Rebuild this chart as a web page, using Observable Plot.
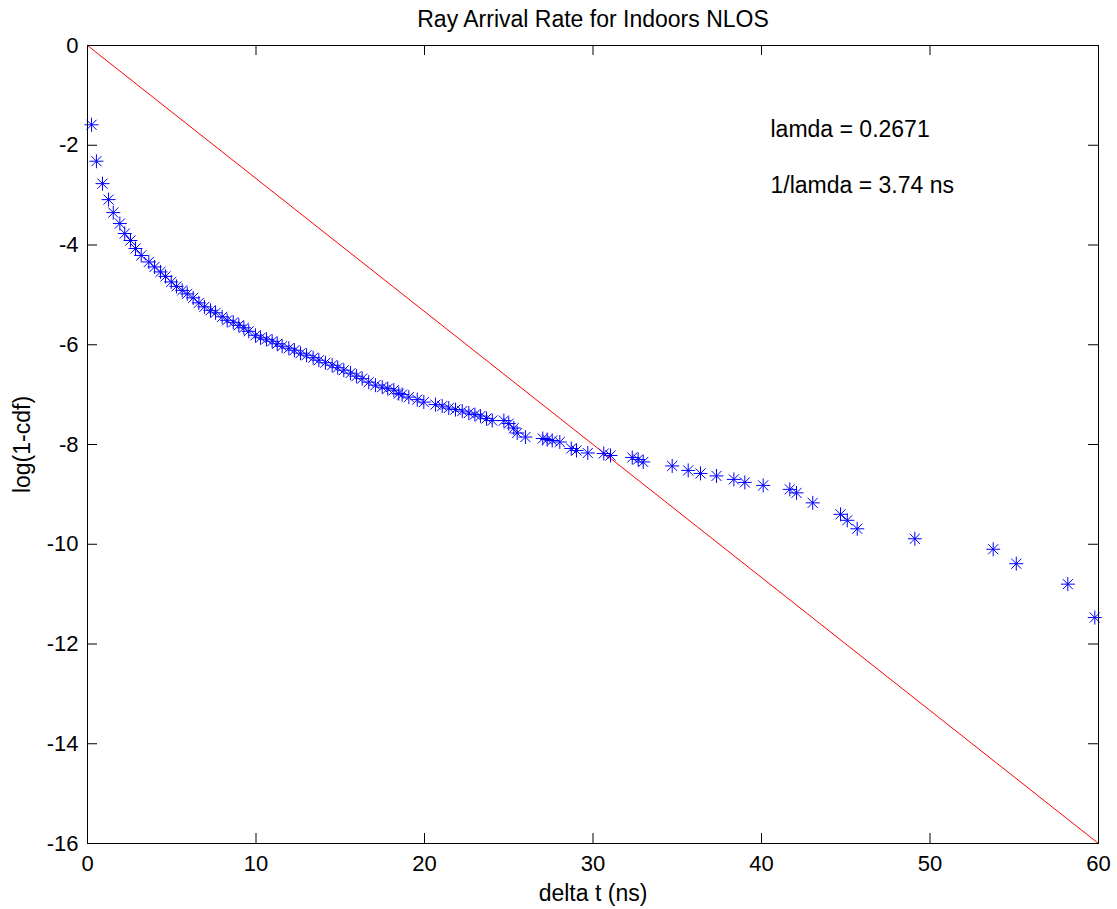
<!DOCTYPE html>
<html>
<head>
<meta charset="utf-8">
<script src="https://cdn.jsdelivr.net/npm/d3@7"></script>
<script src="https://cdn.jsdelivr.net/npm/@observablehq/plot@0.6"></script>
<style>
  html, body { margin: 0; padding: 0; background: #fff; }
</style>
</head>
<body>
<div id="chart"></div>
<script>
const title = "Ray Arrival Rate for Indoors NLOS";
const xLabel = "delta t (ns)";
const yLabel = "log(1-cdf)";
const annotations = ["lamda = 0.2671", "1/lamda = 3.74 ns"];

const xTicks = [0, 10, 20, 30, 40, 50, 60];
const yTicks = [0, -2, -4, -6, -8, -10, -12, -14, -16];

// measured points: delta t (ns) and log(1-cdf)
const deltaT = [0.24,0.53,0.89,1.25,1.53,1.92,2.21,2.55,2.85,3.19,3.64,3.98,4.33,4.63,4.97,5.28,5.62,5.92,6.27,6.61,
  6.94,7.30,7.60,7.99,8.29,8.65,8.98,9.28,9.57,9.97,10.27,10.62,10.96,11.26,11.55,11.95,12.28,12.64,13.00,13.39,
  13.73,14.12,14.52,14.85,15.21,15.61,15.96,16.30,16.69,17.09,17.49,17.82,18.18,18.47,18.67,19.07,19.57,19.96,20.65,21.05,
  21.44,21.84,22.24,22.63,22.99,23.32,23.68,24.02,24.71,25.00,25.30,25.50,25.99,27.02,27.28,27.58,28.03,28.71,29.02,29.69,
  30.64,31.04,32.33,32.68,32.98,34.70,35.65,36.38,37.33,38.36,39.01,40.10,41.68,42.08,43.04,44.69,45.09,45.68,49.10,53.75,
  55.12,58.18,59.78];
const logCdf = [-1.59,-2.32,-2.77,-3.09,-3.35,-3.57,-3.77,-3.91,-4.07,-4.21,-4.34,-4.44,-4.54,-4.63,-4.74,-4.83,-4.91,-4.98,-5.06,-5.16,
  -5.24,-5.31,-5.36,-5.44,-5.51,-5.55,-5.61,-5.66,-5.73,-5.81,-5.86,-5.89,-5.93,-5.98,-6.03,-6.07,-6.11,-6.17,-6.21,-6.26,
  -6.31,-6.36,-6.41,-6.46,-6.51,-6.57,-6.63,-6.68,-6.75,-6.81,-6.85,-6.88,-6.91,-6.98,-7.00,-7.05,-7.10,-7.15,-7.20,-7.23,
  -7.27,-7.30,-7.33,-7.37,-7.40,-7.43,-7.48,-7.52,-7.52,-7.58,-7.67,-7.77,-7.85,-7.88,-7.90,-7.92,-7.95,-8.08,-8.12,-8.17,
  -8.18,-8.22,-8.26,-8.30,-8.35,-8.43,-8.52,-8.58,-8.63,-8.70,-8.76,-8.82,-8.90,-8.97,-9.17,-9.40,-9.52,-9.69,-9.89,-10.10,
  -10.39,-10.80,-11.47];

// fitted exponential line (log scale): endpoints
const fitT = [0, 60];
const fitY = [0, -16];

const points = deltaT.map((t, i) => ({t, v: logCdf[i]}));
const fit = fitT.map((t, i) => ({t, v: fitY[i]}));

// MATLAB-style 8-arm asterisk
const star8 = {
  draw(context, size) {
    const r = Math.sqrt(size / Math.PI);
    const d = r * 0.72;
    context.moveTo(0, -r); context.lineTo(0, r);
    context.moveTo(-r, 0); context.lineTo(r, 0);
    context.moveTo(-d, -d); context.lineTo(d, d);
    context.moveTo(-d, d); context.lineTo(d, -d);
  }
};

const W = 1117, H = 909, ML = 87, MR = 19, MT = 45, MB = 66;
const PW = W - ML - MR, PH = H - MT - MB, TL = 10;
const fmt = d => String(d);

const chart = Plot.plot({
  width: W,
  height: H,
  marginLeft: ML,
  marginRight: MR,
  marginTop: MT,
  marginBottom: MB,
  style: {fontFamily: "'Liberation Sans', Arial, sans-serif", fontSize: "22px", background: "#fff", color: "#000"},
  x: {domain: [0, 60], ticks: xTicks, tickSize: 0, tickPadding: 12, tickFormat: fmt, label: null},
  y: {domain: [-16, 0], ticks: yTicks, tickSize: 0, tickPadding: 9, tickFormat: fmt, label: null},
  marks: [
    Plot.line(fit, {x: "t", y: "v", stroke: "#ff0000", strokeWidth: 1}),
    Plot.dot(points, {x: "t", y: "v", symbol: star8, r: 7, stroke: "#0000ff", fill: "none", strokeWidth: 1}),
    Plot.tickX(xTicks, {x: d => d, insetTop: PH - TL, stroke: "#000"}),
    Plot.tickX(xTicks, {x: d => d, insetBottom: PH - TL, stroke: "#000"}),
    Plot.tickY(yTicks, {y: d => d, insetRight: PW - TL, stroke: "#000"}),
    Plot.tickY(yTicks, {y: d => d, insetLeft: PW - TL, stroke: "#000"}),
    Plot.frame({stroke: "#000", strokeWidth: 1}),
    Plot.text([title], {text: d => d, frameAnchor: "top", dy: -26, fontSize: 23, textAnchor: "middle", lineAnchor: "middle", fill: "#000"}),
    Plot.text([xLabel], {text: d => d, frameAnchor: "bottom", dy: 50, fontSize: 23, textAnchor: "middle", lineAnchor: "middle", fill: "#000"}),
    Plot.text([yLabel], {text: d => d, frameAnchor: "left", dx: -65, rotate: -90, fontSize: 23, textAnchor: "middle", lineAnchor: "middle", fill: "#000"}),
    Plot.text([annotations[0]], {text: d => d, frameAnchor: "top-left", dx: 683, dy: 84, fontSize: 23, textAnchor: "start", lineAnchor: "middle", fill: "#000"}),
    Plot.text([annotations[1]], {text: d => d, frameAnchor: "top-left", dx: 683, dy: 140, fontSize: 23, textAnchor: "start", lineAnchor: "middle", fill: "#000"})
  ]
});
document.getElementById("chart").appendChild(chart);
</script>
</body>
</html>
